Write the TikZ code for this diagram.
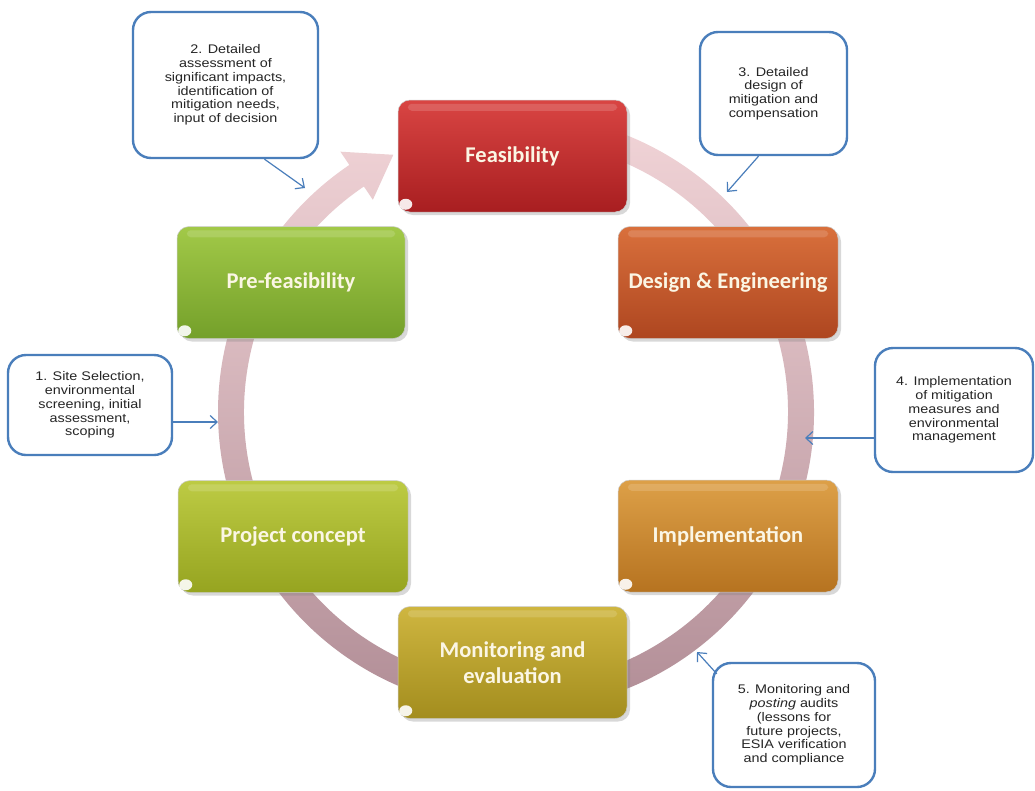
\documentclass[tikz,border=0pt]{standalone}
\usepackage{fontspec}
\setmainfont{Liberation Sans}
\newfontfamily\boxfont{Carlito}
\newfontfamily\calfont[FakeStretch=1.15]{Liberation Sans}
\usetikzlibrary{arrows.meta,shadows,calc}
\definecolor{cblue}{HTML}{4A7EBB}
\definecolor{ringtop}{HTML}{F3D6D9}
\definecolor{ringbot}{HTML}{B08C95}
\definecolor{feasT}{HTML}{D94543}
\definecolor{feasB}{HTML}{A81E20}
\definecolor{desT}{HTML}{D9703C}
\definecolor{desB}{HTML}{AE4620}
\definecolor{impT}{HTML}{DDA048}
\definecolor{impB}{HTML}{B67320}
\definecolor{monT}{HTML}{CFB640}
\definecolor{monB}{HTML}{A38D1E}
\definecolor{proT}{HTML}{BDCB44}
\definecolor{proB}{HTML}{96A420}
\definecolor{preT}{HTML}{A2C948}
\definecolor{preB}{HTML}{74A02A}
\definecolor{txtc}{HTML}{FBF6E4}
\tikzset{
  stagebox/.style={rounded corners=12pt, minimum height=112pt, text=txtc,
    font=\boxfont\bfseries\fontsize{22.5}{26}\selectfont, align=center,
    drop shadow={opacity=0.3, shadow xshift=3pt, shadow yshift=-3pt},
    draw=black!20, line width=0.5pt},
  callout/.style={draw=cblue, line width=2.4pt, fill=white, rounded corners=18pt,
    align=center, font=\calfont\fontsize{12.5}{13.8}\selectfont, text=black!85},
  carrow/.style={draw=cblue, line width=1.2pt, -{Straight Barb[length=7pt,width=13pt]}},
  glosshi/.style={fill=white, opacity=0.15, rounded corners=4pt},
  curl/.style={fill=white, opacity=0.9}
}
\newcommand\boxgloss[1]{%
  \fill[glosshi] ($(#1.north west)+(10,4)$) rectangle ($(#1.north east)+(-10,11)$);
  \fill[curl] ($(#1.south west)+(8,-8)$) ellipse (6.5pt and 5.5pt);
}
\begin{document}
\begin{tikzpicture}[x=1pt,y=-1pt]
\useasboundingbox (0,0) rectangle (1035,790);
\fill[white] (0,0) rectangle (1035,790);
% ring
\shade[top color=ringtop, bottom color=ringbot]
  ([shift={(516,412)}]-95:298) arc[start angle=-95, end angle=236, radius=298]
  -- ([shift={(516,412)}]236:314)
  -- ([shift={(516,412)}]244.5:285)
  -- ([shift={(516,412)}]236:256)
  -- ([shift={(516,412)}]236:272)
  arc[start angle=236, end angle=-95, radius=272] -- cycle;
% stages
\node[stagebox, minimum width=229pt, top color=feasT, bottom color=feasB] (feas) at (512.5,156) {Feasibility};
\node[stagebox, minimum width=220pt, top color=desT, bottom color=desB] (des) at (728,282.5) {Design \& Engineering};
\node[stagebox, minimum width=220pt, top color=impT, bottom color=impB] (imp) at (728,536) {Implementation};
\node[stagebox, minimum width=229pt, top color=monT, bottom color=monB] (mon) at (512.5,662.5) {Monitoring and\\evaluation};
\node[stagebox, minimum width=230pt, top color=proT, bottom color=proB] (pro) at (293,536.5) {Project concept};
\node[stagebox, minimum width=228pt, top color=preT, bottom color=preB] (pre) at (291,282.5) {Pre-feasibility};
\boxgloss{feas}\boxgloss{des}\boxgloss{imp}\boxgloss{mon}\boxgloss{pro}\boxgloss{pre}
% callouts
\node[callout, minimum width=185pt, minimum height=146pt] (c2) at (225.5,85)
  {2. Detailed\\assessment of\\significant impacts,\\identification of\\mitigation needs,\\input of decision};
\node[callout, minimum width=147pt, minimum height=123pt] (c3) at (773.5,93.5)
  {3. Detailed\\design of\\mitigation and\\compensation};
\node[callout, minimum width=164pt, minimum height=100pt] (c1) at (90,405)
  {1. Site Selection,\\environmental\\screening, initial\\assessment,\\scoping};
\node[callout, minimum width=158pt, minimum height=124pt] (c4) at (954,410)
  {4. Implementation\\of mitigation\\measures and\\environmental\\management};
\node[callout, minimum width=162pt, minimum height=124pt] (c5) at (794,725)
  {5. Monitoring and\\\textit{posting} audits\\(lessons for\\future projects,\\ESIA verification\\and compliance};
% arrow targets on the ring
\coordinate (r1) at (218,422);
\coordinate (r2) at (305,188);
\coordinate (r3) at (727,192);
\coordinate (r4) at (805,438);
\coordinate (r5) at (697,652);
\draw[carrow] (c1.east |- r1) -- (r1);
\draw[carrow] ([xshift=39pt]c2.south) -- (r2);
\draw[carrow] ([xshift=-15pt]c3.south) -- (r3);
\draw[carrow] (c4.west |- r4) -- (r4);
\draw[carrow] ($(c5.north west)+(5,12)$) -- (r5);
\end{tikzpicture}
\end{document}
